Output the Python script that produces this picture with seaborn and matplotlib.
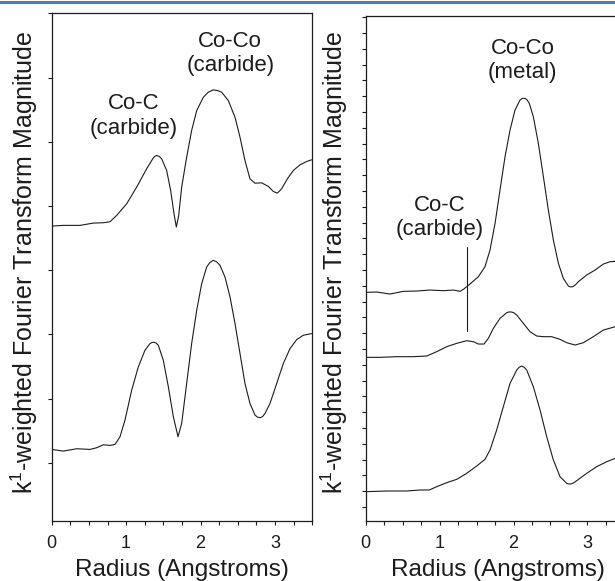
import matplotlib
matplotlib.use("Agg")
import matplotlib.pyplot as plt
import seaborn as sns
import pandas as pd
from matplotlib.lines import Line2D
from matplotlib.ticker import MultipleLocator

# ---------------- data ----------------
# Left panel (carbide sample): radius in Angstroms, offset magnitude (a.u.)
left_top_r = [0.0, 0.156, 0.380, 0.560, 0.694, 0.784, 0.873, 1.008, 1.142, 1.276,
              1.366, 1.390, 1.411, 1.445, 1.478, 1.545, 1.599, 1.644, 1.675, 1.707,
              1.747, 1.814, 1.881, 1.949, 2.038, 2.105, 2.172, 2.230, 2.285, 2.374,
              2.464, 2.531, 2.598, 2.665, 2.733, 2.822, 2.912, 2.979, 3.033, 3.091,
              3.167, 3.248, 3.337, 3.427, 3.494]
left_top_y = [3.686, 3.697, 3.697, 3.733, 3.738, 3.754, 3.852, 4.034, 4.293, 4.578,
              4.749, 4.776, 4.785, 4.772, 4.734, 4.552, 4.241, 3.878, 3.671, 3.852,
              4.293, 4.759, 5.174, 5.485, 5.692, 5.772, 5.807, 5.797, 5.771, 5.641,
              5.381, 5.070, 4.707, 4.422, 4.354, 4.360, 4.303, 4.225, 4.200, 4.267,
              4.422, 4.552, 4.640, 4.692, 4.718]

left_bot_r = [0.0, 0.156, 0.336, 0.515, 0.604, 0.694, 0.784, 0.851, 0.918, 0.985,
              1.075, 1.164, 1.254, 1.321, 1.348, 1.375, 1.405, 1.433, 1.500, 1.568,
              1.635, 1.698, 1.747, 1.814, 1.881, 1.949, 2.016, 2.083, 2.125, 2.172,
              2.215, 2.262, 2.329, 2.397, 2.464, 2.531, 2.598, 2.665, 2.733, 2.765,
              2.800, 2.835, 2.867, 2.934, 3.024, 3.113, 3.203, 3.293, 3.382, 3.494]
left_bot_y = [0.208, 0.182, 0.218, 0.208, 0.234, 0.280, 0.270, 0.286, 0.405, 0.664,
              1.131, 1.493, 1.753, 1.856, 1.873, 1.877, 1.862, 1.830, 1.597, 1.182,
              0.716, 0.405, 0.612, 1.234, 1.856, 2.375, 2.790, 3.049, 3.117, 3.152,
              3.131, 3.075, 2.893, 2.582, 2.167, 1.701, 1.234, 0.923, 0.742, 0.712,
              0.700, 0.720, 0.768, 0.923, 1.234, 1.545, 1.778, 1.918, 1.986, 2.012]

# Right panel (metal / mixed samples)
right_top_r = [0.0, 0.148, 0.329, 0.509, 0.690, 0.870, 1.050, 1.186, 1.276, 1.321,
               1.411, 1.524, 1.614, 1.682, 1.750, 1.817, 1.885, 1.953, 2.020, 2.088,
               2.120, 2.156, 2.185, 2.214, 2.268, 2.336, 2.404, 2.471, 2.539, 2.607,
               2.674, 2.742, 2.770, 2.801, 2.835, 2.877, 2.990, 3.103, 3.216, 3.306, 3.378]
right_top_y = [13.587, 13.608, 13.481, 13.650, 13.671, 13.734, 13.692, 13.734, 13.650, 13.776,
               14.114, 14.578, 15.211, 16.266, 17.954, 20.063, 22.173, 23.861, 25.127, 25.759,
               25.870, 25.865, 25.760, 25.549, 24.705, 23.017, 20.907, 18.797, 16.899, 15.422,
               14.473, 13.987, 13.930, 13.945, 14.050, 14.262, 14.684, 15.000, 15.380, 15.527, 15.549]

right_mid_r = [0.0, 0.194, 0.419, 0.645, 0.825, 0.960, 1.096, 1.231, 1.366, 1.456,
               1.524, 1.601, 1.659, 1.727, 1.817, 1.908, 1.940, 1.975, 2.010, 2.043,
               2.133, 2.223, 2.314, 2.404, 2.516, 2.629, 2.719, 2.832, 2.945, 3.080,
               3.216, 3.378]
right_mid_y = [9.473, 9.473, 9.515, 9.515, 9.557, 9.831, 10.148, 10.359, 10.527, 10.464,
               10.316, 10.316, 10.675, 11.308, 11.941, 12.300, 12.350, 12.342, 12.280, 12.152,
               11.625, 11.097, 10.823, 10.781, 10.781, 10.612, 10.401, 10.253, 10.401, 10.781,
               11.203, 11.414]

right_bot_r = [0.0, 0.284, 0.554, 0.735, 0.861, 0.960, 1.096, 1.231, 1.366, 1.502,
               1.614, 1.682, 1.772, 1.862, 1.953, 2.043, 2.075, 2.111, 2.145, 2.178,
               2.268, 2.359, 2.449, 2.539, 2.629, 2.719, 2.745, 2.774, 2.810, 2.855,
               2.990, 3.125, 3.261, 3.378]
right_bot_y = [0.970, 1.013, 1.013, 1.076, 1.076, 1.287, 1.540, 1.751, 2.131, 2.595,
               3.017, 3.608, 4.873, 6.350, 7.827, 8.671, 8.840, 8.924, 8.840, 8.671,
               7.616, 6.139, 4.451, 2.975, 1.920, 1.498, 1.460, 1.456, 1.520, 1.667,
               2.131, 2.553, 2.869, 3.080]

# Co-C marker line in right panel
marker_r = [1.371, 1.371]
marker_y = [16.48, 11.16]

x_major = [0, 1, 2, 3]
x_ticklabels = ["0", "1", "2", "3"]
xlabel_text = "Radius (Angstroms)"
ylabel_text = "k$^{1}$-weighted Fourier Transform Magnitude"

left_labels = [("Co-Co\n(carbide)", 2.40, 6.37), ("Co-C\n(carbide)", 1.10, 5.40)]
right_labels = [("Co-Co\n(metal)", 2.12, 28.26), ("Co-C\n(carbide)", 1.00, 18.3)]

# ---------------- style ----------------
sns.set_style("ticks")
plt.rcParams['font.family'] = ['Liberation Sans', 'DejaVu Sans']
plt.rcParams['mathtext.fontset'] = 'custom'
plt.rcParams['mathtext.rm'] = 'Liberation Sans'
plt.rcParams['mathtext.it'] = 'Liberation Sans:italic'
plt.rcParams['mathtext.bf'] = 'Liberation Sans:bold'

INK = "#1c1c1c"
W, H = 615, 581
fig = plt.figure(figsize=(W / 100, H / 100), dpi=100)
fig.patch.set_facecolor("white")

axL = fig.add_axes([51.7 / W, (H - 521) / H, 260.4 / W, (521 - 13.3) / H])
axR = fig.add_axes([365.7 / W, (H - 521) / H, 258.7 / W, (521 - 16) / H])

def draw(ax, r, y):
    df = pd.DataFrame({"r": r, "y": y})
    sns.lineplot(data=df, x="r", y="y", ax=ax, color=INK, lw=0.8,
                 sort=False, estimator=None, solid_joinstyle="round")

draw(axL, left_top_r, left_top_y)
draw(axL, left_bot_r, left_bot_y)
draw(axR, right_top_r, right_top_y)
draw(axR, right_mid_r, right_mid_y)
draw(axR, right_bot_r, right_bot_y)
sns.lineplot(x=marker_r, y=marker_y, ax=axR, color=INK, lw=0.8, sort=False, estimator=None)

axL.set_ylim(-0.907, 7.0)
axR.set_ylim(-0.886, 31.08)

for ax in (axL, axR):
    ax.set_xlim(0, 3.5)
    ax.set_facecolor("white")
    ax.xaxis.set_major_locator(MultipleLocator(1))
    ax.xaxis.set_minor_locator(MultipleLocator(0.25))
    ax.yaxis.set_major_locator(MultipleLocator(1))
    ax.set_xticks(x_major)
    ax.set_xticklabels(x_ticklabels)
    ax.tick_params(axis="x", which="both", direction="out", length=3, width=0.8,
                   color=INK, labelsize=13, pad=7, labelcolor=INK)
    ax.tick_params(axis="y", which="both", direction="out", length=3, width=0.8,
                   color=INK, labelleft=False)
    for s in ax.spines.values():
        s.set_visible(True)
        s.set_color(INK)
        s.set_linewidth(0.9)
    ax.set_xlabel(xlabel_text, fontsize=17.5, color=INK)
    ax.set_ylabel(ylabel_text, fontsize=18, color=INK)

axL.xaxis.set_label_coords(0.5, -0.075)
axR.xaxis.set_label_coords(0.513, -0.075)
axL.yaxis.set_label_coords(-0.045, 0.509)
axR.yaxis.set_label_coords(-0.061, 0.512)

for txt, x, y in left_labels:
    axL.text(x, y, txt, ha="center", va="center", fontsize=16, color=INK, linespacing=1.2)
for txt, x, y in right_labels:
    axR.text(x, y, txt, ha="center", va="center", fontsize=16, color=INK, linespacing=1.2)

# blue rule across the top of the page
fig.add_artist(Line2D([0, 1], [1 - 2 / H, 1 - 2 / H], transform=fig.transFigure,
                      color="#4a7bbd", lw=2.2))

fig.savefig("out.png", dpi=100, facecolor="white")
